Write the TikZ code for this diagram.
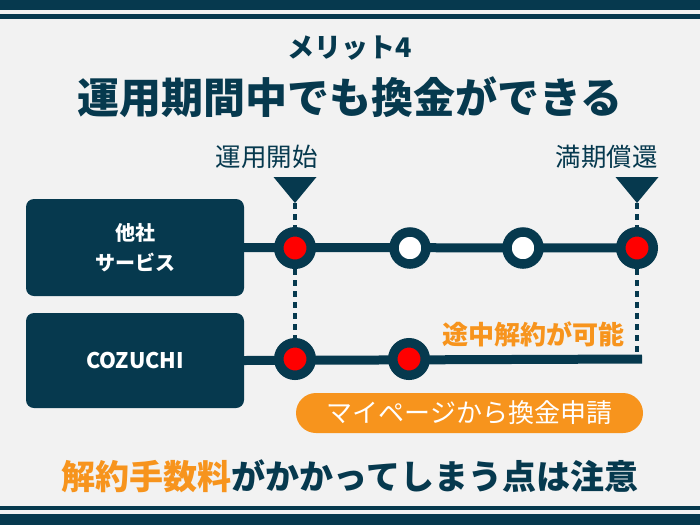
\documentclass[tikz,border=0pt]{standalone}
\usepackage{fontspec}
\setmainfont{Noto Sans CJK JP}
\usetikzlibrary{backgrounds}
\definecolor{navy}{HTML}{06394E}
\definecolor{orng}{HTML}{F7941D}
\definecolor{bgc}{HTML}{F2F2F2}
\begin{document}
\begin{tikzpicture}[x=1pt,y=-1pt,
  sbox/.style={fill=navy, rounded corners=8pt, minimum width=218pt, text=white, align=center, inner sep=0pt},
  redc/.style={circle, fill=red, draw=navy, line width=9.5pt, minimum size=32.5pt, inner sep=0pt},
  whc/.style={circle, fill=white, draw=navy, line width=9.5pt, minimum size=32pt, inner sep=0pt},
  tline/.style={draw=navy, line width=9pt},
  dotl/.style={draw=navy, line width=4pt, dash pattern=on 6pt off 5pt},
  tri/.style={fill=navy}]
\useasboundingbox (0,0) rectangle (700,525);
\begin{pgfonlayer}{background}
\fill[bgc] (0,0) rectangle (700,525);
\end{pgfonlayer}
% bands
\fill[navy] (0,0) rectangle (700,10);
\fill[navy] (0,14) rectangle (700,19);
\fill[navy] (0,506) rectangle (700,510);
\fill[navy] (0,514) rectangle (700,525);
% titles
\node[text=navy, font={\fontsize{27}{27}\selectfont\bfseries}] (sub) at (350,48) {メリット4};
\node[text=navy, font={\fontsize{42}{42}\selectfont\bfseries}] (title) at (350,97) {運用期間中でも換金ができる};
% boxes
\node[sbox, minimum height=97pt, font={\fontsize{20}{30}\selectfont\bfseries}] (ta) at (135,247.5) {他社\\サービス};
\node[sbox, minimum height=95pt, font={\fontsize{21.5}{21.5}\selectfont\bfseries}] (coz) at (135,360.5) {COZUCHI};
% circles
\node[redc] (a1) at (295,248) {};
\node[whc] (a2) at (410,248) {};
\node[whc] (a3) at (523,248) {};
\node[redc] (a4) at (637,248) {};
\node[redc] (b1) at (295,359) {};
\node[redc] (b2) at (409,359) {};
\coordinate (bend) at (642,359);
\coordinate (dend) at (637,354);
% markers
\coordinate (t1) at (295,203);
\coordinate (t2) at (637,203);
\fill[tri] (t1) -- ++(-21.5,-26) -- ++(43,0) -- cycle;
\fill[tri] (t2) -- ++(-21.5,-26) -- ++(43,0) -- cycle;
\node[anchor=east, text=navy, inner sep=0pt, font={\fontsize{25.5}{25.5}\selectfont}] (l1) at (318,157) {運用開始};
\node[anchor=east, text=navy, inner sep=0pt, font={\fontsize{25.5}{25.5}\selectfont}] (l2) at (658,157) {満期償還};
\begin{pgfonlayer}{background}
\draw[tline] (ta.east) -- (a4.center);
\draw[tline] (coz.east) -- (bend);
\draw[dotl] (t1) -- (b1.center);
\draw[dotl] (t2) -- (dend);
\end{pgfonlayer}
% labels
\node[text=orng, font={\fontsize{26}{26}\selectfont\bfseries}] (mid) at (533,334) {途中解約が可能};
\node[fill=orng, rounded corners=20pt, minimum width=347pt, minimum height=40pt, inner sep=0pt, text=white, font={\fontsize{26}{26}\selectfont}] (pill) at (469.5,413) {マイページから換金申請};
\node[text=navy, font={\fontsize{34}{34}\selectfont\bfseries}] (note) at (350,476) {\textcolor{orng}{解約手数料}がかかってしまう点は注意};
\end{tikzpicture}
\end{document}
